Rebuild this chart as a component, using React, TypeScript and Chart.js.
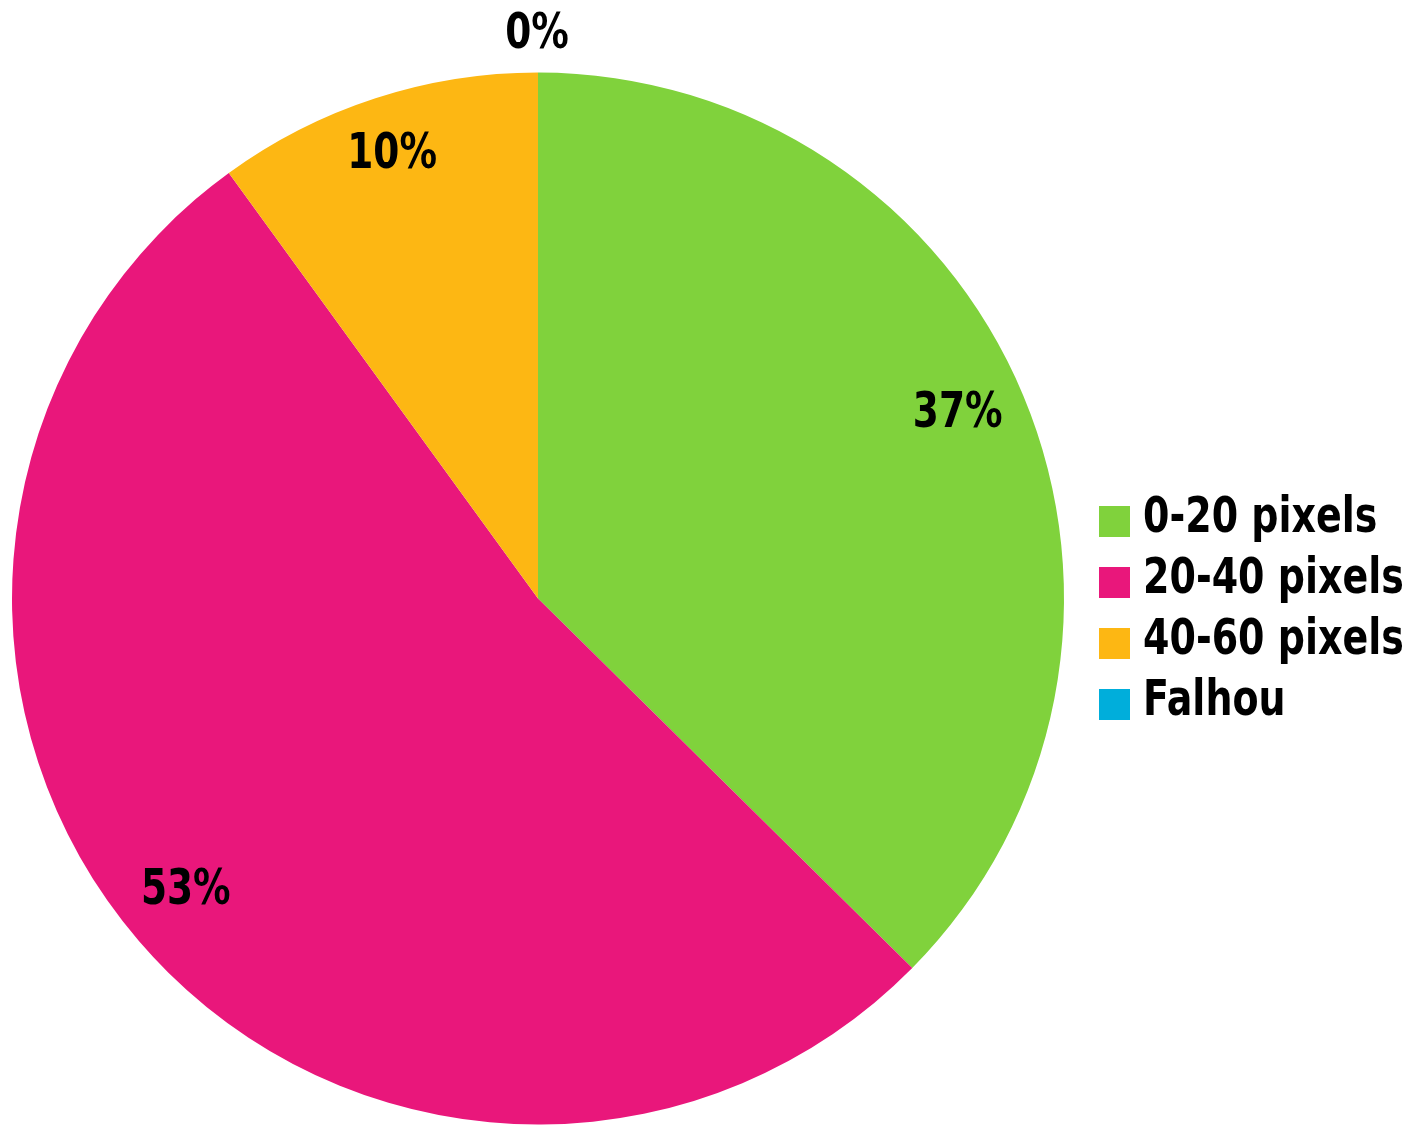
import React, { useEffect, useRef } from "react";
import { Chart, registerables } from "chart.js";

Chart.register(...registerables);

const categories = ["0-20 pixels", "20-40 pixels", "40-60 pixels", "Falhou"];
const values = [37.4, 52.6, 10, 0];
const colors = ["#80D23C", "#E9177B", "#FDB713", "#00AEDB"];

const FONT_FAMILY = "'DejaVu Sans', sans-serif";

const total = values.reduce((a, b) => a + b, 0);
const percentLabels = values.map((v) => Math.round((v / total) * 100) + "%");

function drawNarrow(ctx: CanvasRenderingContext2D, text: string, x: number, y: number, sx: number) {
  ctx.save();
  ctx.translate(x, y);
  ctx.scale(sx, 1);
  ctx.fillText(text, 0, 0);
  ctx.restore();
}

const labelPlugin = {
  id: "sliceLabels",
  afterDatasetsDraw(chart: any) {
    const ctx = chart.ctx;
    const meta = chart.getDatasetMeta(0);
    ctx.save();
    ctx.font = `bold 49px ${FONT_FAMILY}`;
    ctx.fillStyle = "#000";
    ctx.textAlign = "center";
    ctx.textBaseline = "middle";
    meta.data.forEach((arc: any, i: number) => {
      const { x, y, startAngle, endAngle, outerRadius } = arc.getProps(
        ["x", "y", "startAngle", "endAngle", "outerRadius"],
        true
      );
      const mid = (startAngle + endAngle) / 2;
      const outside = values[i] === 0;
      const r = outside ? outerRadius + 37 : outerRadius * 0.873;
      const ox = outside ? -1 : -4;
      const oy = outside ? 0 : -7;
      drawNarrow(ctx, percentLabels[i], x + Math.cos(mid) * r + ox, y + Math.sin(mid) * r + oy, 0.765);
    });
    ctx.restore();
  },
};

const legendPlugin = {
  id: "rightLegend",
  afterDraw(chart: any) {
    const ctx = chart.ctx;
    const ds = chart.data.datasets[0];
    const boxX = chart.chartArea.right + 34;
    const startY = 506;
    const step = 61;
    const box = 31;
    ctx.save();
    ctx.font = `bold 50px ${FONT_FAMILY}`;
    ctx.textAlign = "left";
    ctx.textBaseline = "middle";
    chart.data.labels.forEach((lab: string, i: number) => {
      const y = startY + i * step;
      ctx.fillStyle = ds.backgroundColor[i];
      ctx.fillRect(boxX, y, box, box);
      ctx.fillStyle = "#000";
      drawNarrow(ctx, lab, boxX + box + 13, y + box / 2 - 2, 0.76);
    });
    ctx.restore();
  },
};

export default function App() {
  const ref = useRef<HTMLCanvasElement | null>(null);
  useEffect(() => {
    if (!ref.current) return;
    const chart = new Chart(ref.current, {
      type: "pie",
      data: {
        labels: categories,
        datasets: [
          {
            data: values,
            backgroundColor: colors,
            borderWidth: [0, 0, 0, 1],
            borderColor: colors,
          },
        ],
      },
      options: {
        responsive: false,
        animation: false,
        layout: { padding: { left: 11, top: 72, right: 350, bottom: 0 } },
        plugins: {
          legend: { display: false },
          tooltip: { enabled: false },
        },
      },
      plugins: [labelPlugin, legendPlugin],
    });
    return () => chart.destroy();
  }, []);
  return (
    <div style={{ position: "fixed", left: 0, top: 0, width: 1415, height: 1125, background: "#fff" }}>
      <canvas ref={ref} width={1415} height={1125} />
    </div>
  );
}
